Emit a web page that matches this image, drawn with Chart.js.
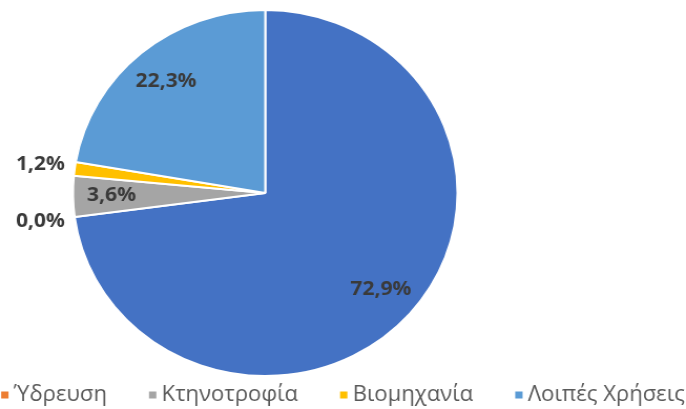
<!DOCTYPE html>
<html>
<head>
<meta charset="utf-8">
<script src="https://cdn.jsdelivr.net/npm/chart.js@4/dist/chart.umd.min.js"></script>
<style>
    html, body { margin: 0; padding: 0; background: #fff; overflow: hidden; }
</style>
</head>
<body>
<!-- drawn slightly narrower and stretched, the source picture is a bit wide -->
<canvas id="waterUse" width="653" height="409" style="width:686px;height:409px"></canvas>
<script>
const categories = ['Άρδευση', 'Ύδρευση', 'Κτηνοτροφία', 'Βιομηχανία', 'Λοιπές Χρήσεις'];
const shares = [72.9, 0.0, 3.6, 1.2, 22.3];
const colors = ['#4472C4', '#ED7D31', '#A5A5A5', '#FFC000', '#5B9BD5'];
const legendFrom = 1; // the first category is not in the legend

function pct(v) {
    return v.toFixed(1).replace('.', ',') + '%';
}

// percentage labels, inside the slice or just outside for the thin ones
const sliceLabels = {
    id: 'sliceLabels',
    afterDatasetsDraw(chart) {
        const ctx = chart.ctx;
        const arcs = chart.getDatasetMeta(0).data;
        ctx.save();
        ctx.font = 'bold 20px "Open Sans"';
        ctx.fillStyle = '#3a3a3a';
        ctx.textAlign = 'center';
        ctx.textBaseline = 'middle';
        arcs.forEach((arc, i) => {
            const p = arc.getProps(['x', 'y', 'startAngle', 'endAngle', 'outerRadius'], true);
            const mid = (p.startAngle + p.endAngle) / 2;
            const k = shares[i] < 2 ? 1.18 : 0.8;
            ctx.fillText(pct(shares[i]),
                p.x + Math.cos(mid) * p.outerRadius * k,
                p.y + Math.sin(mid) * p.outerRadius * k);
        });
        ctx.restore();
    }
};

// legend row along the bottom
const bottomLegend = {
    id: 'bottomLegend',
    afterDraw(chart) {
        const ctx = chart.ctx;
        const box = 7, gap = 5, spacing = 40, y = 395;
        ctx.save();
        ctx.font = '21px "Open Sans"';
        ctx.textBaseline = 'middle';
        const items = categories.slice(legendFrom).map((name, j) => ({
            name: name,
            color: colors[j + legendFrom],
            w: ctx.measureText(name).width
        }));
        const total = items.reduce((s, it) => s + box + gap + it.w, 0) + spacing * (items.length - 1);
        let x = (chart.width - total) / 2;
        items.forEach(it => {
            ctx.fillStyle = it.color;
            ctx.fillRect(x, y - box / 2, box, box);
            ctx.fillStyle = '#595959';
            ctx.fillText(it.name, x + box + gap, y);
            x += box + gap + it.w + spacing;
        });
        ctx.restore();
    }
};

const ctx = document.getElementById('waterUse').getContext('2d');
new Chart(ctx, {
    type: 'pie',
    data: {
        labels: categories,
        datasets: [{
            data: shares,
            backgroundColor: colors,
            borderColor: '#ffffff',
            borderWidth: 2
        }]
    },
    options: {
        responsive: false,
        animation: false,
        layout: { padding: { top: 9, bottom: 32, left: 0, right: 148 } },
        plugins: {
            legend: { display: false },
            tooltip: { enabled: false }
        }
    },
    plugins: [sliceLabels, bottomLegend]
});
</script>
</body>
</html>
